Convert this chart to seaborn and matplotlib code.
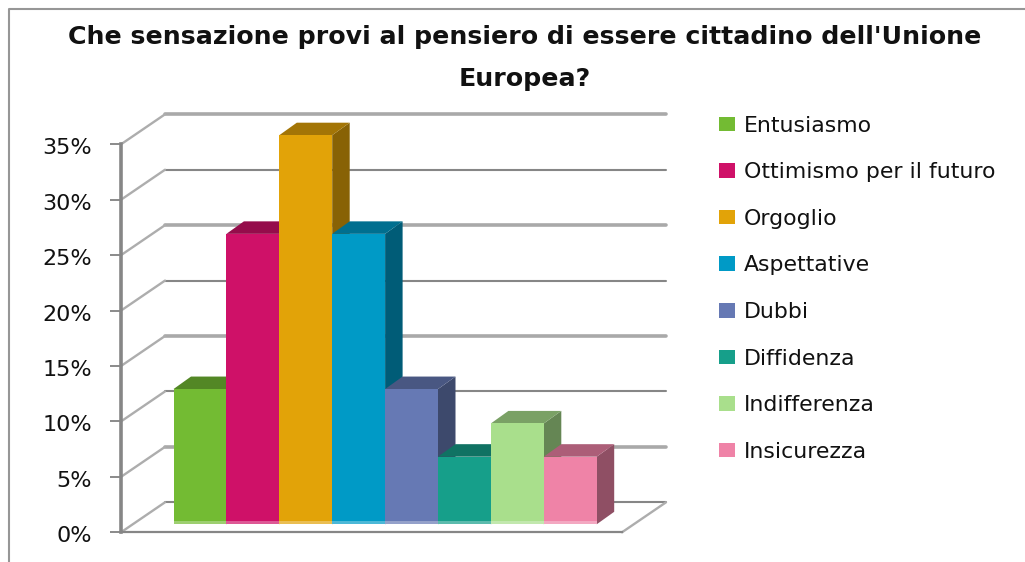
import matplotlib
matplotlib.use("Agg")
import matplotlib.pyplot as plt
import matplotlib.colors as mcolors
from matplotlib.lines import Line2D
from matplotlib.patches import Patch, Polygon
from matplotlib.transforms import Affine2D
import pandas as pd
import seaborn as sns

# values
categories = ["Entusiasmo", "Ottimismo per il futuro", "Orgoglio", "Aspettative",
              "Dubbi", "Diffidenza", "Indifferenza", "Insicurezza"]
values = [12.2, 26.2, 35.1, 26.2, 12.2, 6.1, 9.1, 6.1]
colors = ["#73bb33", "#cf1168", "#e2a308", "#009ac6",
          "#6679b4", "#169f8a", "#a9df8c", "#ef83a7"]
y_ticks = [0, 5, 10, 15, 20, 25, 30, 35]
title = "Che sensazione provi al pensiero di essere cittadino dell'Unione\nEuropea?"

W, H, DPI = 1025, 562, 100

sns.set_theme(style="white")
plt.rcParams["font.family"] = ["DejaVu Sans"]

df = pd.DataFrame({"categoria": categories, "valore": values})

fig = plt.figure(figsize=(W / DPI, H / DPI), dpi=DPI)
ax = fig.add_axes([121 / W, (H - 532.3) / H, 501 / W, 388 / H])
sns.barplot(data=df, x="categoria", y="valore", hue="categoria", order=categories,
            hue_order=categories, palette=colors, width=1, dodge=False,
            legend=False, saturation=1, ax=ax)

bar_w = 52.9
ax.set_xlim((121 - 173.5) / bar_w - 0.5, (622 - 173.5) / bar_w - 0.5)
ax.set_ylim(0, 35)
ax.set_xlabel("")
ax.set_ylabel("")
ax.set_xticks([])
ax.set_yticks(y_ticks)
ax.set_yticklabels([f"{t}%" for t in y_ticks], fontsize=16, color="#111111")
ax.tick_params(axis="y", left=True, length=8, width=1.4, color="#8a8a8a", pad=13)
for label in ax.get_yticklabels():
    label.set_transform(label.get_transform() + Affine2D().translate(0, -2))
for side in ["top", "right"]:
    ax.spines[side].set_visible(False)
ax.spines["left"].set_color("#868686")
ax.spines["left"].set_linewidth(2.6)
ax.spines["bottom"].set_color("#868686")
ax.spines["bottom"].set_linewidth(1.6)
ax.patch.set_alpha(0)

# back wall and floor, shifted in pixels from the front plane
wall = ax.transData + Affine2D().translate(44, 30)
x0, x1 = ax.get_xlim()
fig.canvas.draw()
for i, t in enumerate(y_ticks):
    thick = i % 2 == 1 or t == 35
    ax.plot([x0, x1], [t, t], transform=wall, clip_on=False, zorder=1,
            color="#a9a9a9" if thick else "#868686", lw=2.6 if thick else 1.5)
    px, py = ax.transData.transform((x0, t))
    ax.add_line(Line2D([px, px + 44], [py, py + 30], transform=None, clip_on=False,
                       color="#adadad", lw=1.7, zorder=1))
px, py = ax.transData.transform((x1, 0))
ax.add_line(Line2D([px, px + 44], [py, py + 30], transform=None, clip_on=False,
                   color="#adadad", lw=1.7, zorder=1))

# 3D look: front faces move up a bit, side and top faces come from the same bars
lift = Affine2D().translate(0, 8)
dx, dy = 17.5, 12.5
for i, bar in enumerate(ax.patches):
    bar.set_transform(ax.transData + lift)
    bar.set_clip_on(False)
    bar.set_zorder(3 + i * 0.1)
    bar.set_linewidth(0)
    (xa, ya), (xb, yb) = (ax.transData + lift).transform(
        [(bar.get_x(), bar.get_y()), (bar.get_x() + bar.get_width(), bar.get_y() + bar.get_height())])
    base = mcolors.to_rgb(colors[i])
    top_c = tuple(c * 0.72 for c in base)
    side_c = tuple(c * 0.6 for c in base)
    z = 3 + i * 0.1
    ax.add_patch(Polygon([(xb, ya), (xb + dx, ya + dy), (xb + dx, yb + dy), (xb, yb)],
                         transform=None, clip_on=False, color=side_c, lw=0, zorder=z - 0.01))
    ax.add_patch(Polygon([(xa, yb), (xa + dx, yb + dy), (xb + dx, yb + dy), (xb, yb)],
                         transform=None, clip_on=False, color=top_c, lw=0, zorder=z - 0.01))
    # pale strip along the foot of each bar
    ax.add_patch(Polygon([(xa, ya), (xb, ya), (xb, ya + 3), (xa, ya + 3)],
                         transform=None, clip_on=False, color="white", alpha=0.3, lw=0, zorder=z + 0.01))

handles = [Patch(facecolor=c, edgecolor="none", label=n) for n, c in zip(categories, colors)]
fig.legend(handles=handles, loc="upper left", bbox_to_anchor=(699 / W, 1 - 96 / H), frameon=False,
           fontsize=15.8, labelspacing=1.21, handlelength=0.73, handleheight=0.64,
           handletextpad=0.4, labelcolor="#111111")

fig.text(525 / W, 1 - 58 / H, title, ha="center", va="center", fontsize=18.2, fontweight="bold",
         color="#111111", linespacing=1.98)

# outer chart border, only left and top are inside the picture
fig.add_artist(Line2D([9 / W, 9 / W, 1], [0, 1 - 9 / H, 1 - 9 / H], color="#969696", lw=1.5))

fig.savefig("out.png", dpi=DPI)
